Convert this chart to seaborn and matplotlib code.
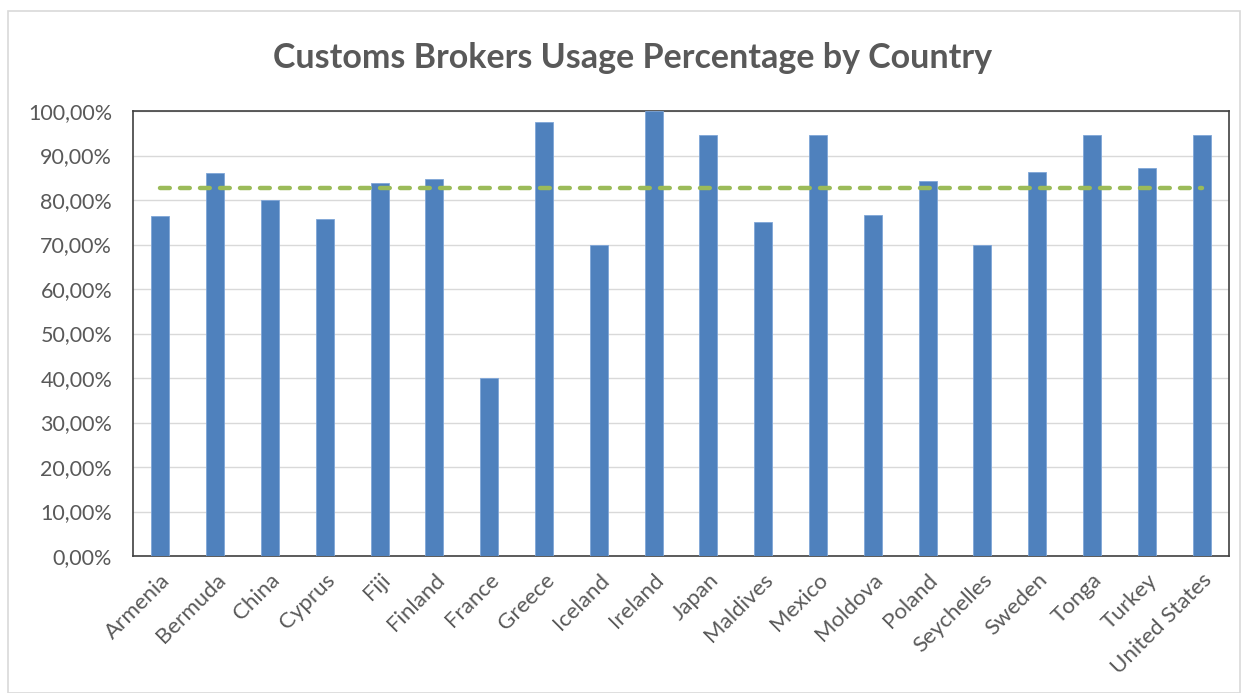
import matplotlib
matplotlib.use("Agg")
import matplotlib.pyplot as plt
import matplotlib.patches as mpatches
from matplotlib.ticker import FuncFormatter
import seaborn as sns
import numpy as np
import pandas as pd

countries = ["Armenia", "Bermuda", "China", "Cyprus", "Fiji", "Finland", "France",
             "Greece", "Iceland", "Ireland", "Japan", "Maldives", "Mexico", "Moldova",
             "Poland", "Seychelles", "Sweden", "Tonga", "Turkey", "United States"]
usage_pct = [76.3, 86.0, 80.0, 75.8, 83.8, 84.8, 40.0, 97.6, 70.0, 100.0,
             94.7, 75.0, 94.7, 76.6, 84.2, 70.0, 86.2, 94.7, 87.1, 94.7]
average_pct = [82.6] * len(countries)
y_ticks = [0, 10, 20, 30, 40, 50, 60, 70, 80, 90, 100]
title = "Customs Brokers Usage Percentage by Country"

sns.set_theme(style="white")
plt.rcParams['font.family'] = ['Lato', 'DejaVu Sans']

W, H = 1245, 693
fig = plt.figure(figsize=(W / 100, H / 100), dpi=100)
ax = fig.add_axes([133 / W, 1 - 556 / H, (1229 - 133) / W, (556 - 111) / H])

df = pd.DataFrame({"country": countries, "usage": usage_pct})
sns.barplot(data=df, x="country", y="usage", color="#4F81BD", saturation=1,
            width=0.33, ax=ax, zorder=3, edgecolor="#7FA6D8", linewidth=0.6)
sns.lineplot(x=np.arange(len(countries)), y=average_pct, ax=ax, color="#9BBB59",
             linewidth=3.2, dashes=False, zorder=4)
ax.lines[-1].set_linestyle((0, (2.2, 2.3)))
ax.lines[-1].set_dash_capstyle("round")

ax.set_ylim(0, 100)
ax.set_xlim(-0.5, len(countries) - 0.5)
ax.set_yticks(y_ticks)
ax.yaxis.set_major_formatter(FuncFormatter(lambda v, p: f"{v:.2f}".replace(".", ",") + "%"))
ax.grid(axis="y", color="#D9D9D9", linewidth=1, zorder=0)
ax.set_axisbelow(True)
for s in ax.spines.values():
    s.set_color("#404040")
    s.set_linewidth(1.2)
ax.set_xlabel("")
ax.set_ylabel("")
ax.tick_params(axis="y", labelsize=15.5, colors="#595959", length=0, pad=15)
ax.tick_params(axis="x", labelsize=16, colors="#595959", length=0, pad=10)
for lbl in ax.get_xticklabels():
    lbl.set_rotation(45)
    lbl.set_ha("right")
    lbl.set_rotation_mode("anchor")

fig.text(632 / W, 1 - 58 / H, title, ha="center", va="center", fontsize=24.5,
         fontweight="bold", color="#595959")

fig.patches.append(mpatches.Rectangle((8 / W, 0.5 / H), (1240 - 8) / W, (682) / H,
                                      transform=fig.transFigure, fill=False,
                                      edgecolor="#D9D9D9", linewidth=1.2))

fig.savefig("out.png", dpi=100)
